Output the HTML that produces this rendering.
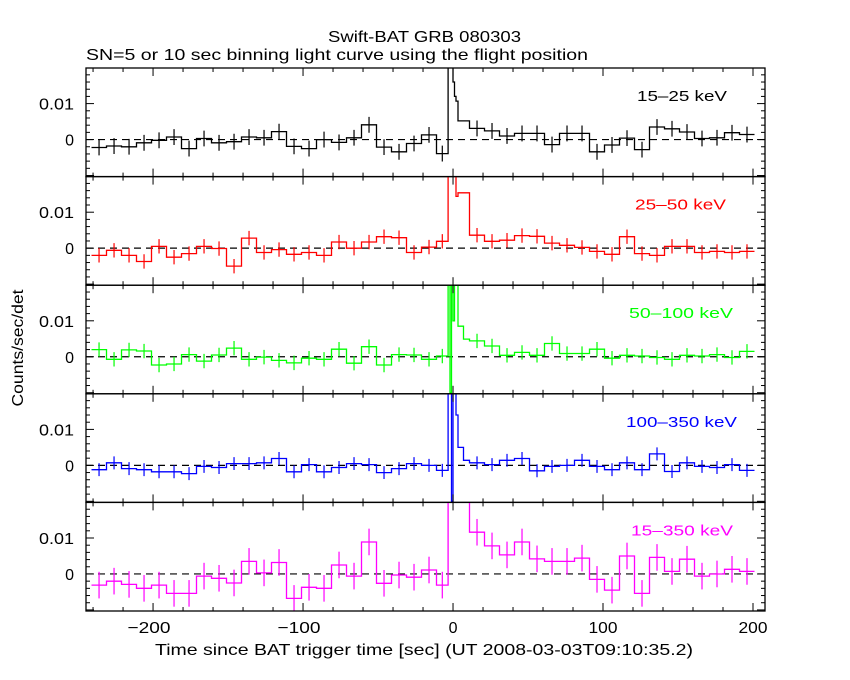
<!DOCTYPE html>
<html><head><meta charset="utf-8"><style>
html,body{margin:0;padding:0;background:#fff;}
svg{display:block;font-family:"Liberation Sans",sans-serif;}
</style></head><body>
<svg id="chart" width="850" height="680" viewBox="0 0 850 680">
<text x="328" y="42" font-size="16" textLength="193" lengthAdjust="spacingAndGlyphs">Swift-BAT GRB 080303</text>
<text x="86" y="60" font-size="16" textLength="502" lengthAdjust="spacingAndGlyphs">SN=5 or 10 sec binning light curve using the flight position</text>
<text transform="translate(23,348) rotate(-90)" font-size="16" text-anchor="middle" textLength="117" lengthAdjust="spacingAndGlyphs">Counts/sec/det</text>
<text x="155" y="655" font-size="16" textLength="538" lengthAdjust="spacingAndGlyphs">Time since BAT trigger time [sec] (UT 2008-03-03T09:10:35.2)</text>
<g id="plots"></g>
</svg>
<script>
// bin edges (sec): 10 s bins before, fine bins across burst, 10 s bins after
const preEdges = [-241,-231,-221,-211,-201,-191,-181,-171,-161,-151,-141,-131,-121,-111,-101,-91,-81,-71,-61,-51,-41,-31,-21,-11,-3.3];
const burstEdges = [-2,-1,0,1,2,3.3,7,11];
const postEdges = [21,31,41,51,61,71,81,91,101,111,121,131,141,151,161,171,181,191,201];
const bandLabels = ["15-25 keV","25-50 keV","50-100 keV","100-350 keV","15-350 keV"];
const bandColors = ["#000000","#ff0000","#00ff00","#0000ff","#ff00ff"];
// rates in units of 0.001 counts/sec/det
const rates15_25 = [-2.2,-1.8,-2.0,-0.9,-0.2,0.7,-2.5,0.3,-0.9,-0.6,0.7,0.5,2.2,-1.9,-2.5,0,-0.8,0.5,4.1,-2.1,-3.4,-1.1,1.3,-3.9,
 25,25,20,16,12,10.7,5.2,5.2,
 3.1,2.4,1.0,1.7,1.7,-1.4,1.7,1.7,-3.4,-1.5,0.4,-2.8,3.5,3.0,2.1,0.3,0.5,1.9,1.4];
const rates25_50 = [-2.0,-0.6,-2.0,-3.7,0.5,-2.5,-1.5,0.5,-0.1,-5.0,2.8,-1.2,-0.4,-1.7,-1.2,-2.0,1.7,0,1.7,3.2,2.9,-1.2,0.3,1.9,
 25,25,25,25,25,14.4,15.4,15.4,
 3.6,1.9,2.2,3.5,3.3,1.4,0.8,0.2,-0.9,-1.7,3.2,-1.5,-2.0,0.5,0.5,-1.2,-0.9,-1.2,-0.9];
const rates50_100 = [2.0,-0.7,1.9,1.6,-2.3,-2.0,0.6,-1.2,0.5,2.4,-0.7,-0.1,-1.0,-1.7,-0.4,-0.7,2.1,-1.8,2.8,-2.3,0.6,0.5,-0.7,0.2,
 25,-10,25,10,25,20,8.5,4.9,
 4.4,3.0,0.4,1.2,0.4,3.7,0.9,0.9,2.1,-0.4,0.4,0.2,-0.2,-0.7,0.4,0.2,0.6,-0.2,1.5];
const rates100_350 = [-1.2,0.7,-0.9,-1.2,-1.8,-1.8,-2.3,-0.3,-0.6,0.5,0.5,0.7,1.9,-1.8,0.2,-1.8,-0.6,0.5,0.2,-2.0,-0.9,0.5,0,-1.4,
 25,25,-10,25,25,14,5,1.4,
 0.7,0.2,1.4,1.9,-1.5,-0.3,0,1.4,-0.3,-1.2,0.7,-1.2,3.2,-1.7,0.7,-0.3,-0.6,0.2,-1.4];
const rates15_350 = [-3.1,-2.0,-2.9,-4.0,-3.1,-5.4,-5.4,-0.6,-1.2,-2.5,3.5,0.3,3.2,-6.8,-3.7,-4.0,2.5,-0.6,8.9,-2.6,-0.3,-0.9,1.1,-3.1,
 25,25,25,25,25,25,25,25,
 11.6,7.8,5.3,8.9,4.2,3.5,3.5,4.4,-1.5,-4.5,5.0,-5.4,4.6,0.7,4.1,-0.6,0,1.3,0.7];
const errs = [2.2,2.0,2.0,1.8,3.7];
const yTickVals = [0,0.01];
const xTickVals = [-200,-100,0,100,200];

const NS="http://www.w3.org/2000/svg";
const svg=document.getElementById('plots');
const X0=86,X1=765,T0=-244.7,T1=208;
const PT=68,PH=108.6;
const YMIN=-0.0103,YMAX=0.0199;
const edges=preEdges.concat(burstEdges,postEdges);
const allRates=[rates15_25,rates25_50,rates50_100,rates100_350,rates15_350];
const labelX=[637,635,629,626,631];
const labelW=[90,91,104,111,102];
function xs(t){return X0+(t-T0)/(T1-T0)*(X1-X0);}
function mk(tag,attrs,parent){const e=document.createElementNS(NS,tag);for(const k in attrs)e.setAttribute(k,attrs[k]);(parent||svg).appendChild(e);return e;}

const defs=mk('defs',{});
for(let p=0;p<5;p++){
  const top=PT+p*PH, bot=top+PH;
  function ys(v){return bot-(v-YMIN)/(YMAX-YMIN)*PH;}
  const cp=mk('clipPath',{id:'cp'+p},defs);
  mk('rect',{x:X0,y:top,width:X1-X0,height:PH},cp);
  const g=mk('g',{});
  
  
  const z=mk('line',{x1:X0,x2:X1,y1:ys(0),y2:ys(0),stroke:'#000','stroke-width':1.2,'stroke-dasharray':'7,5'},g);
  
  
  const rates=allRates[p];
  const sg=mk('g',{'clip-path':'url(#cp'+p+')'},g);
  
  
  let d='';
  for(let i=0;i<rates.length;i++){
    const a=xs(edges[i]),b=xs(edges[i+1]),y=ys(rates[i]/1000);
    d+=(i===0?'M':'L')+a.toFixed(1)+','+y.toFixed(1)+'L'+b.toFixed(1)+','+y.toFixed(1);
  }
  const path=mk('path',{d:d,fill:'none',stroke:bandColors[p],'stroke-width':1.3},sg);
  
  
  for(let i=0;i<rates.length;i++){
    const w=edges[i+1]-edges[i];
    if(w<5)continue;
    const cx=xs((edges[i]+edges[i+1])/2),v=rates[i]/1000,e=errs[p]/1000;
    const eb=mk('line',{x1:cx,x2:cx,y1:ys(v-e),y2:ys(v+e),stroke:bandColors[p],'stroke-width':1.2},sg);
    
    
  }
  const fr=mk('rect',{x:X0,y:top,width:X1-X0,height:PH,fill:'none',stroke:'#000','stroke-width':1.3},g);
  
  
  for(let v=-0.01;v<=0.0199;v+=0.002){
    const vv=Math.round(v*1000)/1000;
    const y=ys(vv); if(y<top||y>bot)continue;
    const major=Math.abs(vv%0.01)<1e-9;
    const L=major?8:4;
    mk('line',{x1:X0,x2:X0+L,y1:y,y2:y,stroke:'#000','stroke-width':1},g);
    mk('line',{x1:X1,x2:X1-L,y1:y,y2:y,stroke:'#000','stroke-width':1},g);
  }
  for(const v of yTickVals){
    const t=mk('text',{x:74,y:ys(v)+6,'font-size':16,'text-anchor':'end'},g);
    t.textContent=v===0?'0':String(v);
    if(v!==0){t.setAttribute('textLength',35);t.setAttribute('lengthAdjust','spacingAndGlyphs');}
    
    
  }
  for(let t=-240;t<=200;t+=20){
    const x=xs(t),L=(t%100===0)?8:4;
    mk('line',{x1:x,x2:x,y1:top,y2:top+L,stroke:'#000','stroke-width':1},g);
    mk('line',{x1:x,x2:x,y1:bot,y2:bot-L,stroke:'#000','stroke-width':1},g);
  }
  const lb=mk('text',{x:labelX[p],y:top+33,'font-size':15,fill:bandColors[p],textLength:labelW[p],lengthAdjust:'spacingAndGlyphs'},g);
  lb.textContent=bandLabels[p].replace('-','\u2013');
  
  
}
for(const v of xTickVals){
  const t=mk('text',{x:xs(v)-(v<0?4:0),y:633,'font-size':16,'text-anchor':'middle'});
  t.textContent=v<0?'\u2212'+Math.abs(v):String(v);
  if(v!==0){t.setAttribute('textLength',v<0?43:29);t.setAttribute('lengthAdjust','spacingAndGlyphs');}
  
  
}
</script>
</body></html>
